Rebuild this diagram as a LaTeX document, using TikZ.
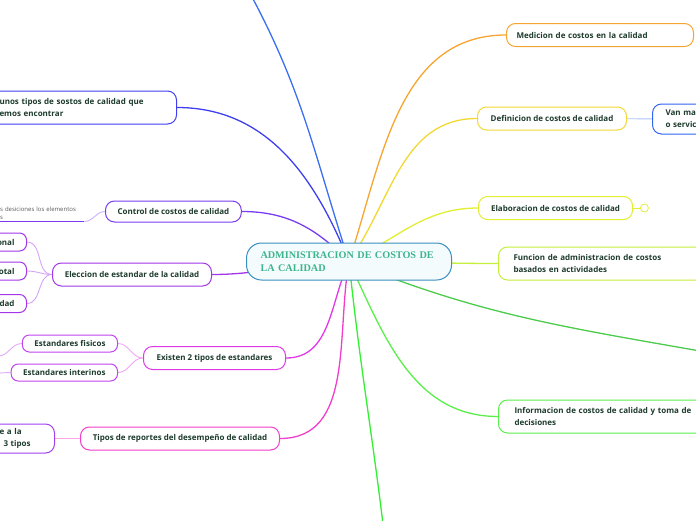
\documentclass[tikz,border=0pt]{standalone}
\usepackage{fontspec}
\setmainfont{Open Sans}
\newfontfamily\titlefont{Liberation Serif}
\usetikzlibrary{positioning,backgrounds}

\definecolor{ink}{HTML}{1D3B2C}
\definecolor{titleC}{HTML}{3DB58C}
\definecolor{rootC}{HTML}{3A8FC0}
\definecolor{rootFill}{HTML}{F4FBFD}
\definecolor{orangeC}{HTML}{F7A531}
\definecolor{yellowC}{HTML}{F2D832}
\definecolor{limeC}{HTML}{E1EF30}
\definecolor{funcC}{HTML}{C4EF3A}
\definecolor{edgeC}{HTML}{4CCB4C}
\definecolor{infoC}{HTML}{5AEF4A}
\definecolor{downC}{HTML}{33F033}
\definecolor{topC}{HTML}{3B6FF2}
\definecolor{vanC}{HTML}{2F66F2}
\definecolor{unosC}{HTML}{3F3FF0}
\definecolor{ctrlC}{HTML}{7A3CF0}
\definecolor{elecC}{HTML}{A237E8}
\definecolor{existC}{HTML}{E03AE8}
\definecolor{leafC}{HTML}{C044F0}
\definecolor{tiposC}{HTML}{F23CCB}
\definecolor{tresC}{HTML}{A040F0}

\begin{document}
\begin{tikzpicture}[x=1pt, y=-1pt,
  every node/.style={font=\bfseries\fontsize{8}{12}\selectfont, text=ink},
  root/.style={draw=rootC, fill=rootFill, rounded corners=15pt, line width=1pt,
    minimum height=37pt, text width=177pt, inner xsep=14pt, align=left,
    font=\titlefont\bfseries\fontsize{10.2}{13}\selectfont, text=titleC},
  topic/.style={draw, fill=white, rounded corners=9pt, line width=1pt,
    minimum height=23pt, inner xsep=12pt, inner ysep=2pt, align=center},
  leaf/.style={topic, rounded corners=7pt, minimum height=17pt},
  note/.style={font=\fontsize{6}{7.5}\selectfont, text=black!65, text width=82pt,
    align=left, inner xsep=2pt, inner ysep=2pt},
  branch/.style={line width=1.3pt},
  twig/.style={line width=0.9pt}
]
\useasboundingbox (0,0) rectangle (696,520);

% Root
\node[root, anchor=west] (root) at (246,261.5) {ADMINISTRACION DE COSTOS DE\\LA CALIDAD};

% Right side
\node[topic, draw=orangeC, anchor=west, text width=167pt, inner xsep=10pt, align=left] (med) at (506,35) {Medicion de costos en la calidad};
\node[topic, draw=yellowC, anchor=west, minimum width=149pt] (def) at (477,118.5) {Definicion de costos de calidad};
\node[topic, draw=vanC, anchor=west, minimum height=30pt, text width=60pt, inner xsep=13pt, align=left] (van) at (652,119) {Van ma\\o servic};
\node[topic, draw=limeC, anchor=west, minimum width=154pt] (elab) at (478,208) {Elaboracion de costos de calidad};
\node[draw=limeC, circle, line width=0.8pt, fill=white, minimum size=8pt, inner sep=0pt, right=7pt of elab] (fold) {};
\node[topic, draw=funcC, anchor=west, minimum height=33pt, text width=190pt, inner xsep=15pt, align=left] (func) at (498,263.5) {Funcion de administracion de costos\\basados en actividades};
\node[topic, draw=infoC, anchor=west, minimum height=33pt, text width=190pt, inner xsep=16pt, align=left] (info) at (498,416.5) {Informacion de costos de calidad y toma de\\decisiones};

% Left side
\node[topic, draw=unosC, anchor=east, minimum height=33pt, text width=165pt, align=left] (unos) at (177,107.5) {unos tipos de sostos de calidad que\\emos encontrar};
\node[topic, draw=ctrlC, anchor=west, minimum width=132pt, minimum height=21pt] (ctrl) at (105,211.5) {Control de costos de calidad};
\node[note, anchor=south west] (nota) at (-2,221.5) {s desiciones los elementos\\s};
\node[topic, draw=elecC, anchor=west, minimum width=159pt] (elec) at (52,274.5) {Eleccion de estandar de la calidad};
\node[leaf, draw=elecC, anchor=east, text width=40pt, align=right, minimum height=18pt] (ea) at (27,242) {onal};
\node[leaf, draw=elecC, anchor=east, text width=40pt, align=right, minimum height=18pt] (eb) at (27,271) {otal};
\node[leaf, draw=elecC, anchor=east, text width=40pt, align=right, minimum height=18pt] (ec) at (27,303.5) {dad};
\node[topic, draw=existC, anchor=west, minimum width=142pt] (exist) at (143,358) {Existen 2 tipos de estandares};
\node[leaf, draw=leafC, anchor=east, minimum width=93pt] (fis) at (118,343.5) {Estandares fisicos};
\node[leaf, draw=leafC, anchor=east, minimum width=105pt] (inter) at (118,372.5) {Estandares interinos};
\node[topic, draw=tiposC, anchor=west, minimum width=199pt] (tipos) at (80,438.5) {Tipos de reportes del desempeño de calidad};
\node[topic, draw=tresC, anchor=east, minimum height=29pt, text width=43pt, align=left] (tres) at (55,438.5) {e a la\\\hspace*{4pt}3 tipos};

% Loose ends
\coordinate (topend) at (252,-3);
\coordinate (rightend) at (700,351);
\coordinate (downend) at (383,524);
\coordinate (fisend) at (-2,356);
\coordinate (interend) at (-2,373);

% Connectors
\begin{scope}[on background layer]
\draw[branch, orangeC] (root.center) to[out=72, in=180] (med.west);
\draw[branch, yellowC] (root.center) to[out=55, in=180] (def.west);
\draw[branch, limeC] (root.center) to[out=25, in=180] (elab.west);
\draw[branch, funcC] (root.center) to[out=0, in=180] (func.west);
\draw[branch, edgeC] (root.center) to[out=-22, in=170] (rightend);
\draw[branch, infoC] (root.center) to[out=-65, in=180] (info.west);
\draw[branch, downC] (root.center) to[out=-84, in=97] (downend);
\draw[branch, topC] (root.center) to[out=108, in=-62] (topend);
\draw[branch, unosC] (root.center) to[out=112, in=0] (unos.east);
\draw[branch, ctrlC] (root.center) to[out=135, in=0] (ctrl.east);
\draw[branch, elecC] (root.center) to[out=180, in=0] (elec.east);
\draw[branch, existC] (root.center) to[out=-115, in=0] (exist.east);
\draw[branch, tiposC] (root.center) to[out=-100, in=0] (tipos.east);

\draw[twig, vanC!40] (def) -- (van);
\draw[twig, limeC] (elab) -- (fold);
\draw[twig, ctrlC!40] (nota.south east) to[out=0, in=180] (ctrl.west);
\draw[line width=1.5pt, ctrlC] (nota.south west) -- (nota.south east);
\foreach \k in {ea,eb,ec}
  \draw[twig, elecC!45] (elec.west) to[out=180, in=0] (\k.east);
\draw[twig, existC!45] (exist.west) to[out=180, in=0] (fis.east);
\draw[twig, existC!45] (exist.west) to[out=180, in=0] (inter.east);
\draw[twig, leafC!45] (fis.west) to[out=180, in=0] (fisend);
\draw[twig, leafC!45] (inter.west) to[out=180, in=0] (interend);
\draw[twig, tiposC!45] (tipos.west) -- (tres.east);
\end{scope}
\end{tikzpicture}
\end{document}
